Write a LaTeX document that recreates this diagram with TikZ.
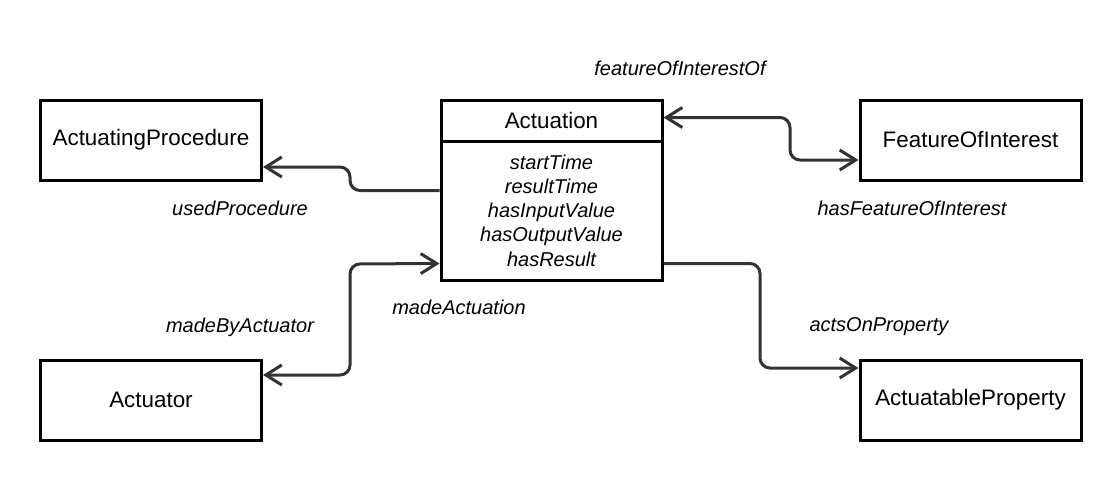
\documentclass[tikz,border=0pt]{standalone}
\usepackage{fontspec}
\setmainfont{Liberation Sans}
\usetikzlibrary{arrows.meta}

\begin{document}
\begin{tikzpicture}[x=1pt,y=-1pt,
  cls/.style={draw=black,line width=3pt,minimum width=221pt,minimum height=80pt,inner sep=0pt,font=\fontsize{22.4}{24}\selectfont},
  attr/.style={font=\itshape\fontsize{20}{24.3}\selectfont,align=center},
  rel/.style={draw=black!80,line width=3pt,rounded corners=10pt},
  tip/.style={-{Straight Barb[length=16pt,width=20pt]}},
  tips/.style={{Straight Barb[length=16pt,width=20pt]}-{Straight Barb[length=16pt,width=20pt]}},
  lbl/.style={font=\itshape\fontsize{20}{24}\selectfont}]
  \useasboundingbox[fill=white] (0,0) rectangle (1120,480);
  % classes
  \node[cls] (proc) at (151,140) {ActuatingProcedure};
  \node[cls] (foi) at (970.5,140) {FeatureOfInterest};
  \node[cls] (actuator) at (151,400) {Actuator};
  \node[cls] (prop) at (970.5,400) {ActuatableProperty};
  \node[cls,minimum height=41pt] (actHead) at (551.5,120.5) {Actuation};
  \node[cls,minimum height=139pt,attr] (actBody) at (551.5,210.5) {startTime\\resultTime\\hasInputValue\\hasOutputValue\\hasResult};
  % relations
  \draw[rel,tip] ([yshift=20pt]actBody.west) -| (350,167) -- ([yshift=-27pt]proc.east);
  \draw[rel,tips] ([yshift=3pt]actHead.east) -| (790,160) -- ([yshift=-20pt]foi.west);
  \draw[rel,tips] ([yshift=25pt]actuator.east) -| (350,264) -- ([yshift=-53pt]actBody.west);
  \draw[rel,tip] ([yshift=-53pt]actBody.east) -| (760,368) -- ([yshift=32pt]prop.west);
  % labels
  \node[lbl] (lFoiOf) at (680,68) {featureOfInterestOf};
  \node[lbl] (lUsed) at (240,208) {usedProcedure};
  \node[lbl] (lHasFoi) at (912,208) {hasFeatureOfInterest};
  \node[lbl] (lMadeBy) at (240,327) {madeByActuator};
  \node[lbl] (lMade) at (459,307) {madeActuation};
  \node[lbl] (lActs) at (879,327) {actsOnProperty};
\end{tikzpicture}
\end{document}
